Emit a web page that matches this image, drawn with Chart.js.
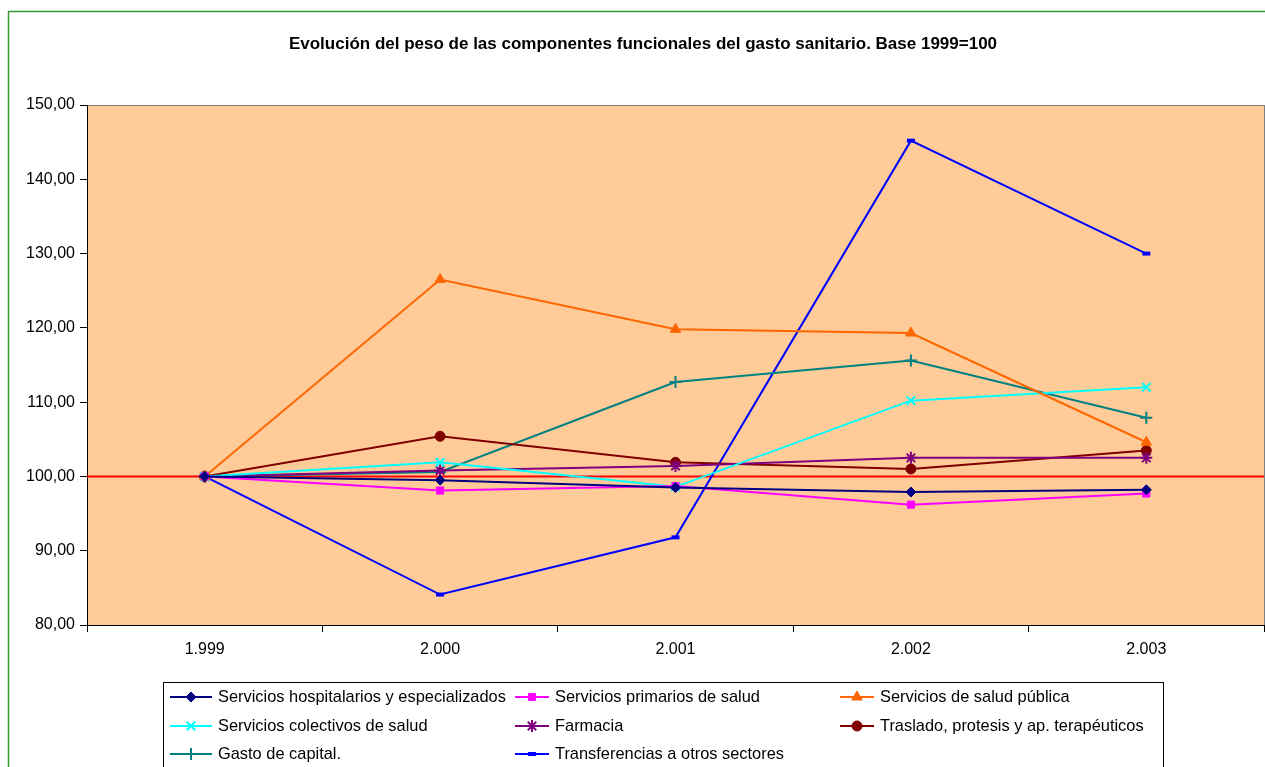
<!DOCTYPE html>
<html>
<head>
<meta charset="utf-8">
<title>Evolución del peso de las componentes funcionales del gasto sanitario</title>
<script src="https://cdn.jsdelivr.net/npm/chart.js@4/dist/chart.umd.min.js"></script>
<style>
  html, body { margin: 0; padding: 0; background: #ffffff; }
  #wrap { position: relative; width: 1265px; height: 767px; overflow: hidden; }
</style>
</head>
<body>
<div id="wrap"><canvas id="chart" width="1272" height="767"></canvas></div>
<script>
/* gasto sanitario: componentes funcionales, base 1999 = 100 */

var years = ['1.999', '2.000', '2.001', '2.002', '2.003'];
var baseLine = 100;

var hospitalarios = [100, 99.5, 98.5, 97.9, 98.2];
var primarios = [100, 98.1, 98.7, 96.2, 97.7];
var saludPublica = [100, 126.5, 119.8, 119.3, 104.6];
var colectivos = [100, 101.9, 98.6, 110.2, 112.0];
var farmacia = [100, 100.8, 101.4, 102.5, 102.5];
var traslado = [100, 105.4, 101.9, 101.0, 103.5];
var capital = [100, 100.6, 112.7, 115.6, 107.9];
var transferencias = [100, 84.1, 91.8, 145.2, 130.0];

var FONT = 'Arial, "Liberation Sans", sans-serif';

function serie(label, data, color, style, radius, bw) {
  return {
    label: label, data: data,
    borderColor: color, backgroundColor: color,
    pointBackgroundColor: color, pointBorderColor: color,
    borderWidth: 2, pointStyle: style, pointRadius: radius,
    pointBorderWidth: bw, pointHoverRadius: radius, tension: 0
  };
}

var datasets = [
  serie('Servicios hospitalarios y especializados', hospitalarios, '#000080', 'rectRot', 5, 1),
  serie('Servicios primarios de salud', primarios, '#FF00FF', 'rect', 5, 1),
  serie('Servicios de salud pública', saludPublica, '#FF6600', 'triangle', 6, 1),
  serie('Servicios colectivos de salud', colectivos, '#00FFFF', 'crossRot', 6, 2),
  serie('Farmacia', farmacia, '#800080', 'star', 6, 2),
  serie('Traslado, protesis y ap. terapéuticos', traslado, '#800000', 'circle', 5, 1),
  serie('Gasto de capital.', capital, '#008080', 'cross', 6, 2),
  serie('Transferencias a otros sectores', transferencias, '#0000FF', 'line', 4, 4)
];

// legend slots: column x, row y
var legendCols = [170, 515, 840];
var legendRows = [697, 726, 754];

var framePlugin = {
  id: 'frame',
  beforeDraw: function (chart) {
    var ctx = chart.ctx, a = chart.chartArea;
    ctx.save();
    ctx.fillStyle = '#ffffff';
    ctx.fillRect(0, 0, chart.width, chart.height);
    ctx.strokeStyle = '#339933';
    ctx.lineWidth = 1.5;
    ctx.strokeRect(8.5, 11.5, 1300, 900);
    ctx.fillStyle = '#FFCC99';
    ctx.fillRect(a.left, a.top, a.right - a.left, a.bottom - a.top);
    ctx.strokeStyle = '#808080';
    ctx.lineWidth = 1;
    ctx.strokeRect(a.left + 0.5, a.top + 0.5, a.right - a.left, a.bottom - a.top);
    ctx.fillStyle = '#000';
    ctx.font = 'bold 17px ' + FONT;
    ctx.textAlign = 'center';
    ctx.textBaseline = 'middle';
    ctx.fillText('Evolución del peso de las componentes funcionales del gasto sanitario. Base 1999=100', 643, 44);
    ctx.restore();
  },
  beforeDatasetsDraw: function (chart) {
    var ctx = chart.ctx, a = chart.chartArea;
    var y = Math.round(chart.scales.y.getPixelForValue(baseLine)) + 0.5;
    ctx.save();
    ctx.strokeStyle = '#FF0000';
    ctx.lineWidth = 2;
    ctx.beginPath();
    ctx.moveTo(a.left, y);
    ctx.lineTo(a.right, y);
    ctx.stroke();
    ctx.restore();
  },
  afterDraw: function (chart) {
    var ctx = chart.ctx;
    ctx.save();
    ctx.strokeStyle = '#000';
    ctx.lineWidth = 1;
    ctx.strokeRect(163.5, 682.5, 1000, 120);
    ctx.font = '16.4px ' + FONT;
    ctx.textBaseline = 'middle';
    ctx.textAlign = 'left';
    chart.data.datasets.forEach(function (ds, i) {
      var x = legendCols[i % 3], y = legendRows[Math.floor(i / 3)];
      var w = i % 3 === 0 ? 42 : 34;
      ctx.strokeStyle = ds.borderColor;
      ctx.fillStyle = ds.borderColor;
      ctx.lineWidth = 2;
      ctx.beginPath();
      ctx.moveTo(x, y);
      ctx.lineTo(x + w, y);
      ctx.stroke();
      ctx.lineWidth = ds.pointBorderWidth;
      Chart.helpers.drawPoint(ctx, {
        pointStyle: ds.pointStyle, rotation: 0,
        radius: ds.pointRadius, borderWidth: ds.pointBorderWidth
      }, x + w / 2, y);
      ctx.fillStyle = '#000';
      ctx.fillText(ds.label, x + w + 6, y);
    });
    ctx.restore();
  }
};

new Chart(document.getElementById('chart'), {
  type: 'line',
  data: { labels: years, datasets: datasets },
  options: {
    responsive: false, animation: false,
    layout: { padding: { left: 0, top: 105, right: 0, bottom: 102 } },
    plugins: { legend: { display: false }, title: { display: false }, tooltip: { enabled: false } },
    scales: {
      x: {
        type: 'category', offset: true,
        afterFit: function (s) { s.height = 40; },
        grid: { offset: true, drawOnChartArea: false, color: '#000', tickLength: 7 },
        border: { color: '#000', width: 1 },
        ticks: { color: '#000', font: { family: FONT, size: 16 }, padding: 8 }
      },
      y: {
        min: 80, max: 150,
        afterFit: function (s) { s.width = 87; },
        grid: { drawOnChartArea: false, color: '#000', tickLength: 7 },
        border: { color: '#000', width: 1 },
        ticks: {
          stepSize: 10, color: '#000', font: { family: FONT, size: 16 }, padding: 5,
          callback: function (v) { return v.toFixed(2).replace('.', ','); }
        }
      }
    }
  },
  plugins: [framePlugin]
});
</script>
</body>
</html>
